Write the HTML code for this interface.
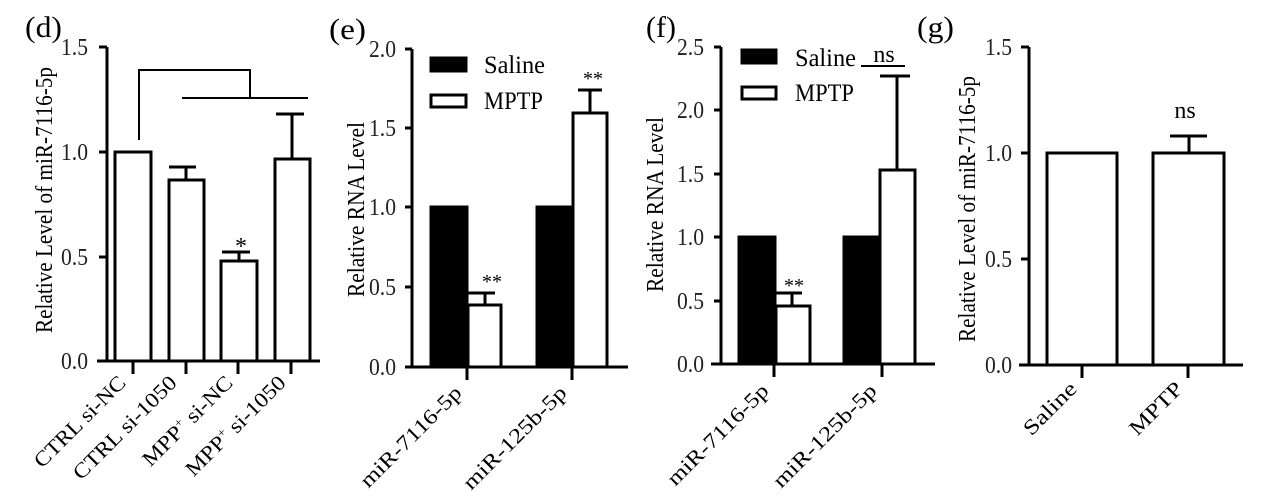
<!DOCTYPE html>
<html><head><meta charset="utf-8"><style>
html,body{margin:0;padding:0;background:#fff;}
svg{display:block;font-family:"Liberation Serif",serif;}
</style></head><body>
<svg width="1280" height="501" viewBox="0 0 1280 501" xmlns="http://www.w3.org/2000/svg">
<g fill="none" stroke="#000" stroke-width="3">
<!-- Panel d -->
<path d="M107,47V361M97,361H320"/>
<path d="M99,47H107M99,152H107M99,257H107M99,361H107"/>
<path d="M133,361V374M186,361V374M238,361V374M291,361V374"/>
<rect x="115" y="152" width="36" height="209"/>
<rect x="169" y="180" width="35" height="181"/>
<rect x="221" y="261" width="36" height="100"/>
<rect x="275" y="159" width="35" height="202"/>
<path d="M186,180V167M169,167H196"/>
<path d="M239,261V252M222,252H250"/>
<path d="M292,159V114M276,114H304"/>
<path d="M139,140V70H250V97M182,98H308" stroke-width="2"/>
<!-- Panel e -->
<path d="M412,49V367M405,367H628"/>
<path d="M405,49H412M405,128H412M405,207H412M405,287H412M405,367H412"/>
<path d="M467,367V380M572,367V380"/>
<rect x="431" y="207" width="36" height="160" fill="#000"/>
<rect x="468" y="305" width="33" height="62"/>
<rect x="537" y="207" width="35" height="160" fill="#000"/>
<rect x="573" y="113" width="34" height="254"/>
<path d="M485,305V293M468,293H495"/>
<path d="M590,113V90M578,90H602"/>
<rect x="431" y="58" width="35" height="13" fill="#000"/>
<rect x="431" y="95" width="35" height="12"/>
<!-- Panel f -->
<path d="M721,47V364M711,364H935"/>
<path d="M714,47H721M714,110H721M714,174H721M714,237H721M714,301H721M714,364H721"/>
<path d="M774,364V377M882,364V377"/>
<rect x="739" y="237" width="36" height="127" fill="#000"/>
<rect x="776" y="306" width="34" height="58"/>
<rect x="844" y="237" width="35" height="127" fill="#000"/>
<rect x="880" y="170" width="35" height="194"/>
<path d="M792,306V293M775,293H802"/>
<path d="M897,170V76M880,76H910"/>
<path d="M861,66H905" stroke-width="2"/>
<rect x="742" y="50" width="34" height="13" fill="#000"/>
<rect x="742" y="87" width="34" height="12"/>
<!-- Panel g -->
<path d="M1029,47V365M1019,365H1243"/>
<path d="M1021,47H1029M1021,153H1029M1021,259H1029M1021,365H1029"/>
<path d="M1082,365V378M1188,365V378"/>
<rect x="1047" y="153" width="70" height="212"/>
<rect x="1153" y="153" width="71" height="212"/>
<path d="M1189,153V136M1170,136H1207"/>
</g>
<g font-size="24" fill="#000">
<text x="25" y="37" font-size="30" textLength="37" lengthAdjust="spacingAndGlyphs">(d)</text>
<text x="329" y="39" font-size="30" textLength="37" lengthAdjust="spacingAndGlyphs">(e)</text>
<text x="646" y="37" font-size="30" textLength="30" lengthAdjust="spacingAndGlyphs">(f)</text>
<text x="917" y="37" font-size="30" textLength="37" lengthAdjust="spacingAndGlyphs">(g)</text>
<g fill="#222">
<text x="61" y="55" textLength="27" lengthAdjust="spacingAndGlyphs">1.5</text><text x="61" y="160" textLength="27" lengthAdjust="spacingAndGlyphs">1.0</text><text x="61" y="265" textLength="27" lengthAdjust="spacingAndGlyphs">0.5</text><text x="61" y="369" textLength="27" lengthAdjust="spacingAndGlyphs">0.0</text>
<text x="369" y="57" textLength="27" lengthAdjust="spacingAndGlyphs">2.0</text><text x="369" y="136" textLength="27" lengthAdjust="spacingAndGlyphs">1.5</text><text x="369" y="215" textLength="27" lengthAdjust="spacingAndGlyphs">1.0</text><text x="369" y="295" textLength="27" lengthAdjust="spacingAndGlyphs">0.5</text><text x="369" y="375" textLength="27" lengthAdjust="spacingAndGlyphs">0.0</text>
<text x="677" y="55" textLength="27" lengthAdjust="spacingAndGlyphs">2.5</text><text x="677" y="118" textLength="27" lengthAdjust="spacingAndGlyphs">2.0</text><text x="677" y="182" textLength="27" lengthAdjust="spacingAndGlyphs">1.5</text><text x="677" y="245" textLength="27" lengthAdjust="spacingAndGlyphs">1.0</text><text x="677" y="309" textLength="27" lengthAdjust="spacingAndGlyphs">0.5</text><text x="677" y="372" textLength="27" lengthAdjust="spacingAndGlyphs">0.0</text>
<text x="985" y="55" textLength="27" lengthAdjust="spacingAndGlyphs">1.5</text><text x="985" y="161" textLength="27" lengthAdjust="spacingAndGlyphs">1.0</text><text x="985" y="267" textLength="27" lengthAdjust="spacingAndGlyphs">0.5</text><text x="985" y="373" textLength="27" lengthAdjust="spacingAndGlyphs">0.0</text>
</g>
<text transform="translate(52,333) rotate(-90)" textLength="266" lengthAdjust="spacingAndGlyphs">Relative Level of miR-7116-5p</text>
<text transform="translate(364,297) rotate(-90)" textLength="175" lengthAdjust="spacingAndGlyphs">Relative RNA Level</text>
<text transform="translate(663,292) rotate(-90)" textLength="175" lengthAdjust="spacingAndGlyphs">Relative RNA Level</text>
<text transform="translate(975,342) rotate(-90)" textLength="266" lengthAdjust="spacingAndGlyphs">Relative Level of miR-7116-5p</text>
<g text-anchor="middle">
<text x="241" y="254">*</text>
<text x="492" y="288" font-size="20">**</text>
<text x="593" y="85" font-size="20">**</text>
<text x="794" y="292" font-size="20">**</text>
<text x="884" y="62">ns</text>
<text x="1185" y="118">ns</text>
</g>
<text x="484" y="73" font-size="25" textLength="61" lengthAdjust="spacingAndGlyphs">Saline</text>
<text x="484" y="109" font-size="25" textLength="59" lengthAdjust="spacingAndGlyphs">MPTP</text>
<text x="795" y="66" font-size="25" textLength="61" lengthAdjust="spacingAndGlyphs">Saline</text>
<text x="795" y="101" font-size="25" textLength="59" lengthAdjust="spacingAndGlyphs">MPTP</text>
<g text-anchor="end" font-size="21">
<text transform="translate(127,384) rotate(-45)" textLength="120" lengthAdjust="spacingAndGlyphs">CTRL si-NC</text>
<text transform="translate(178,384) rotate(-45)" textLength="137" lengthAdjust="spacingAndGlyphs">CTRL si-1050</text>
<text transform="translate(234,384) rotate(-45)" textLength="118" lengthAdjust="spacingAndGlyphs">MPP<tspan font-size="12" dy="-8">+</tspan><tspan dy="8"> si-NC</tspan></text>
<text transform="translate(287,384) rotate(-45)" textLength="132" lengthAdjust="spacingAndGlyphs">MPP<tspan font-size="12" dy="-8">+</tspan><tspan dy="8"> si-1050</tspan></text>
<text transform="translate(463,394) rotate(-45)" textLength="134" lengthAdjust="spacingAndGlyphs">miR-7116-5p</text>
<text transform="translate(568,394) rotate(-45)" textLength="137" lengthAdjust="spacingAndGlyphs">miR-125b-5p</text>
<text transform="translate(770,392) rotate(-45)" textLength="134" lengthAdjust="spacingAndGlyphs">miR-7116-5p</text>
<text transform="translate(878,392) rotate(-45)" textLength="137" lengthAdjust="spacingAndGlyphs">miR-125b-5p</text>
<text transform="translate(1078,390) rotate(-45)" textLength="66" lengthAdjust="spacingAndGlyphs">Saline</text>
<text transform="translate(1184,390) rotate(-45)" textLength="66" lengthAdjust="spacingAndGlyphs">MPTP</text>
</g>
</g>
</svg>
</body></html>
